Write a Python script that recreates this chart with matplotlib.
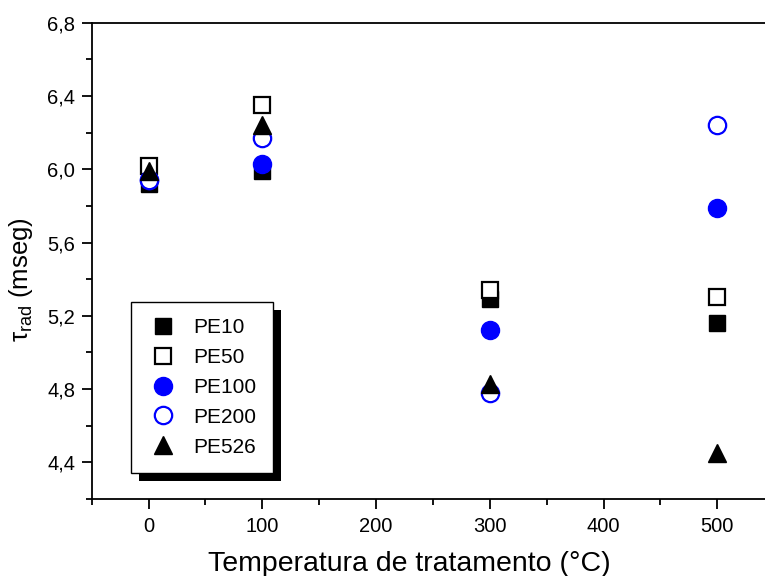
import matplotlib
matplotlib.use("Agg")
import matplotlib.pyplot as plt
from matplotlib.ticker import MultipleLocator, FuncFormatter
from matplotlib.lines import Line2D
from matplotlib.patches import Rectangle

plt.rcParams['font.family'] = ['Liberation Sans', 'DejaVu Sans']
plt.rcParams['mathtext.default'] = 'regular'

# data
temps = [0, 100, 300, 500]
pe10 = [5.92, 5.99, 5.29, 5.16]
pe50 = [6.02, 6.35, 5.34, 5.30]
pe100 = [5.94, 6.03, 5.12, 5.79]
pe200 = [5.94, 6.17, 4.78, 6.24]
pe526 = [5.99, 6.24, 4.83, 4.45]
labels = ["PE10", "PE50", "PE100", "PE200", "PE526"]

fig = plt.figure(figsize=(7.65, 5.76), dpi=100)
ax = fig.add_axes([0.1199, 0.1337, 0.892, 0.8269])

styles = [
    dict(marker='s', ms=11.5, mfc='black', mec='black', mew=1.0),
    dict(marker='s', ms=11.0, mfc='white', mec='black', mew=1.6),
    dict(marker='o', ms=13, mfc='blue', mec='blue', mew=1.0),
    dict(marker='o', ms=12.5, mfc='white', mec='blue', mew=1.6),
    dict(marker='^', ms=13.5, mfc='black', mec='black', mew=1.0),
]
series = [pe10, pe50, pe100, pe200, pe526]
for i, (vals, st) in enumerate(zip(series, styles)):
    ax.plot(temps, vals, linestyle='none', zorder=3 + i, clip_on=False, **st)

ax.set_xlim(-50, 550)
ax.set_ylim(4.2, 6.8)
ax.xaxis.set_major_locator(MultipleLocator(100))
ax.xaxis.set_minor_locator(MultipleLocator(50))
ax.yaxis.set_major_locator(MultipleLocator(0.4))
ax.yaxis.set_minor_locator(MultipleLocator(0.2))
ax.yaxis.set_major_formatter(FuncFormatter(lambda v, p: f"{v:.1f}".replace('.', ',')))

for s in ax.spines.values():
    s.set_linewidth(1.3)
ax.tick_params(which='major', direction='out', length=7, width=1.3, labelsize=14.5, pad=5)
ax.tick_params(axis='x', which='major', pad=6)
ax.tick_params(which='minor', direction='out', length=4.5, width=1.3)
ax.tick_params(top=False, right=False, which='both')

ax.set_xlabel("Temperatura de tratamento (°C)", fontsize=20.5)
ax.set_ylabel(r"$\tau_{rad}$ (mseg)", fontsize=18.5)
ax.xaxis.set_label_coords(0.466, -0.11)
ax.yaxis.set_label_coords(-0.083, 0.46)

handles = [Line2D([], [], linestyle='none', **st) for st in styles]
leg = ax.legend(handles, labels, loc='lower left', bbox_to_anchor=(0.0576, 0.054),
                borderaxespad=0, fontsize=15, frameon=True, fancybox=False,
                framealpha=1, edgecolor='black', handlelength=1.5,
                handletextpad=0.7, labelspacing=0.52, borderpad=0.8)
leg.get_frame().set_linewidth(1.0)
leg.set_zorder(20)

fig.canvas.draw()
bb = leg.get_window_extent()
inv = fig.transFigure.inverted()
(x0, y0) = inv.transform((bb.x0 + 8, bb.y0 - 8))
(x1, y1) = inv.transform((bb.x1 + 8, bb.y1 - 8))
shadow = Rectangle((x0, y0), x1 - x0, y1 - y0, transform=fig.transFigure,
                   facecolor='black', edgecolor='none', zorder=19)
ax.add_artist(shadow)
shadow.set_clip_on(False)

fig.savefig("out.png", dpi=100)
